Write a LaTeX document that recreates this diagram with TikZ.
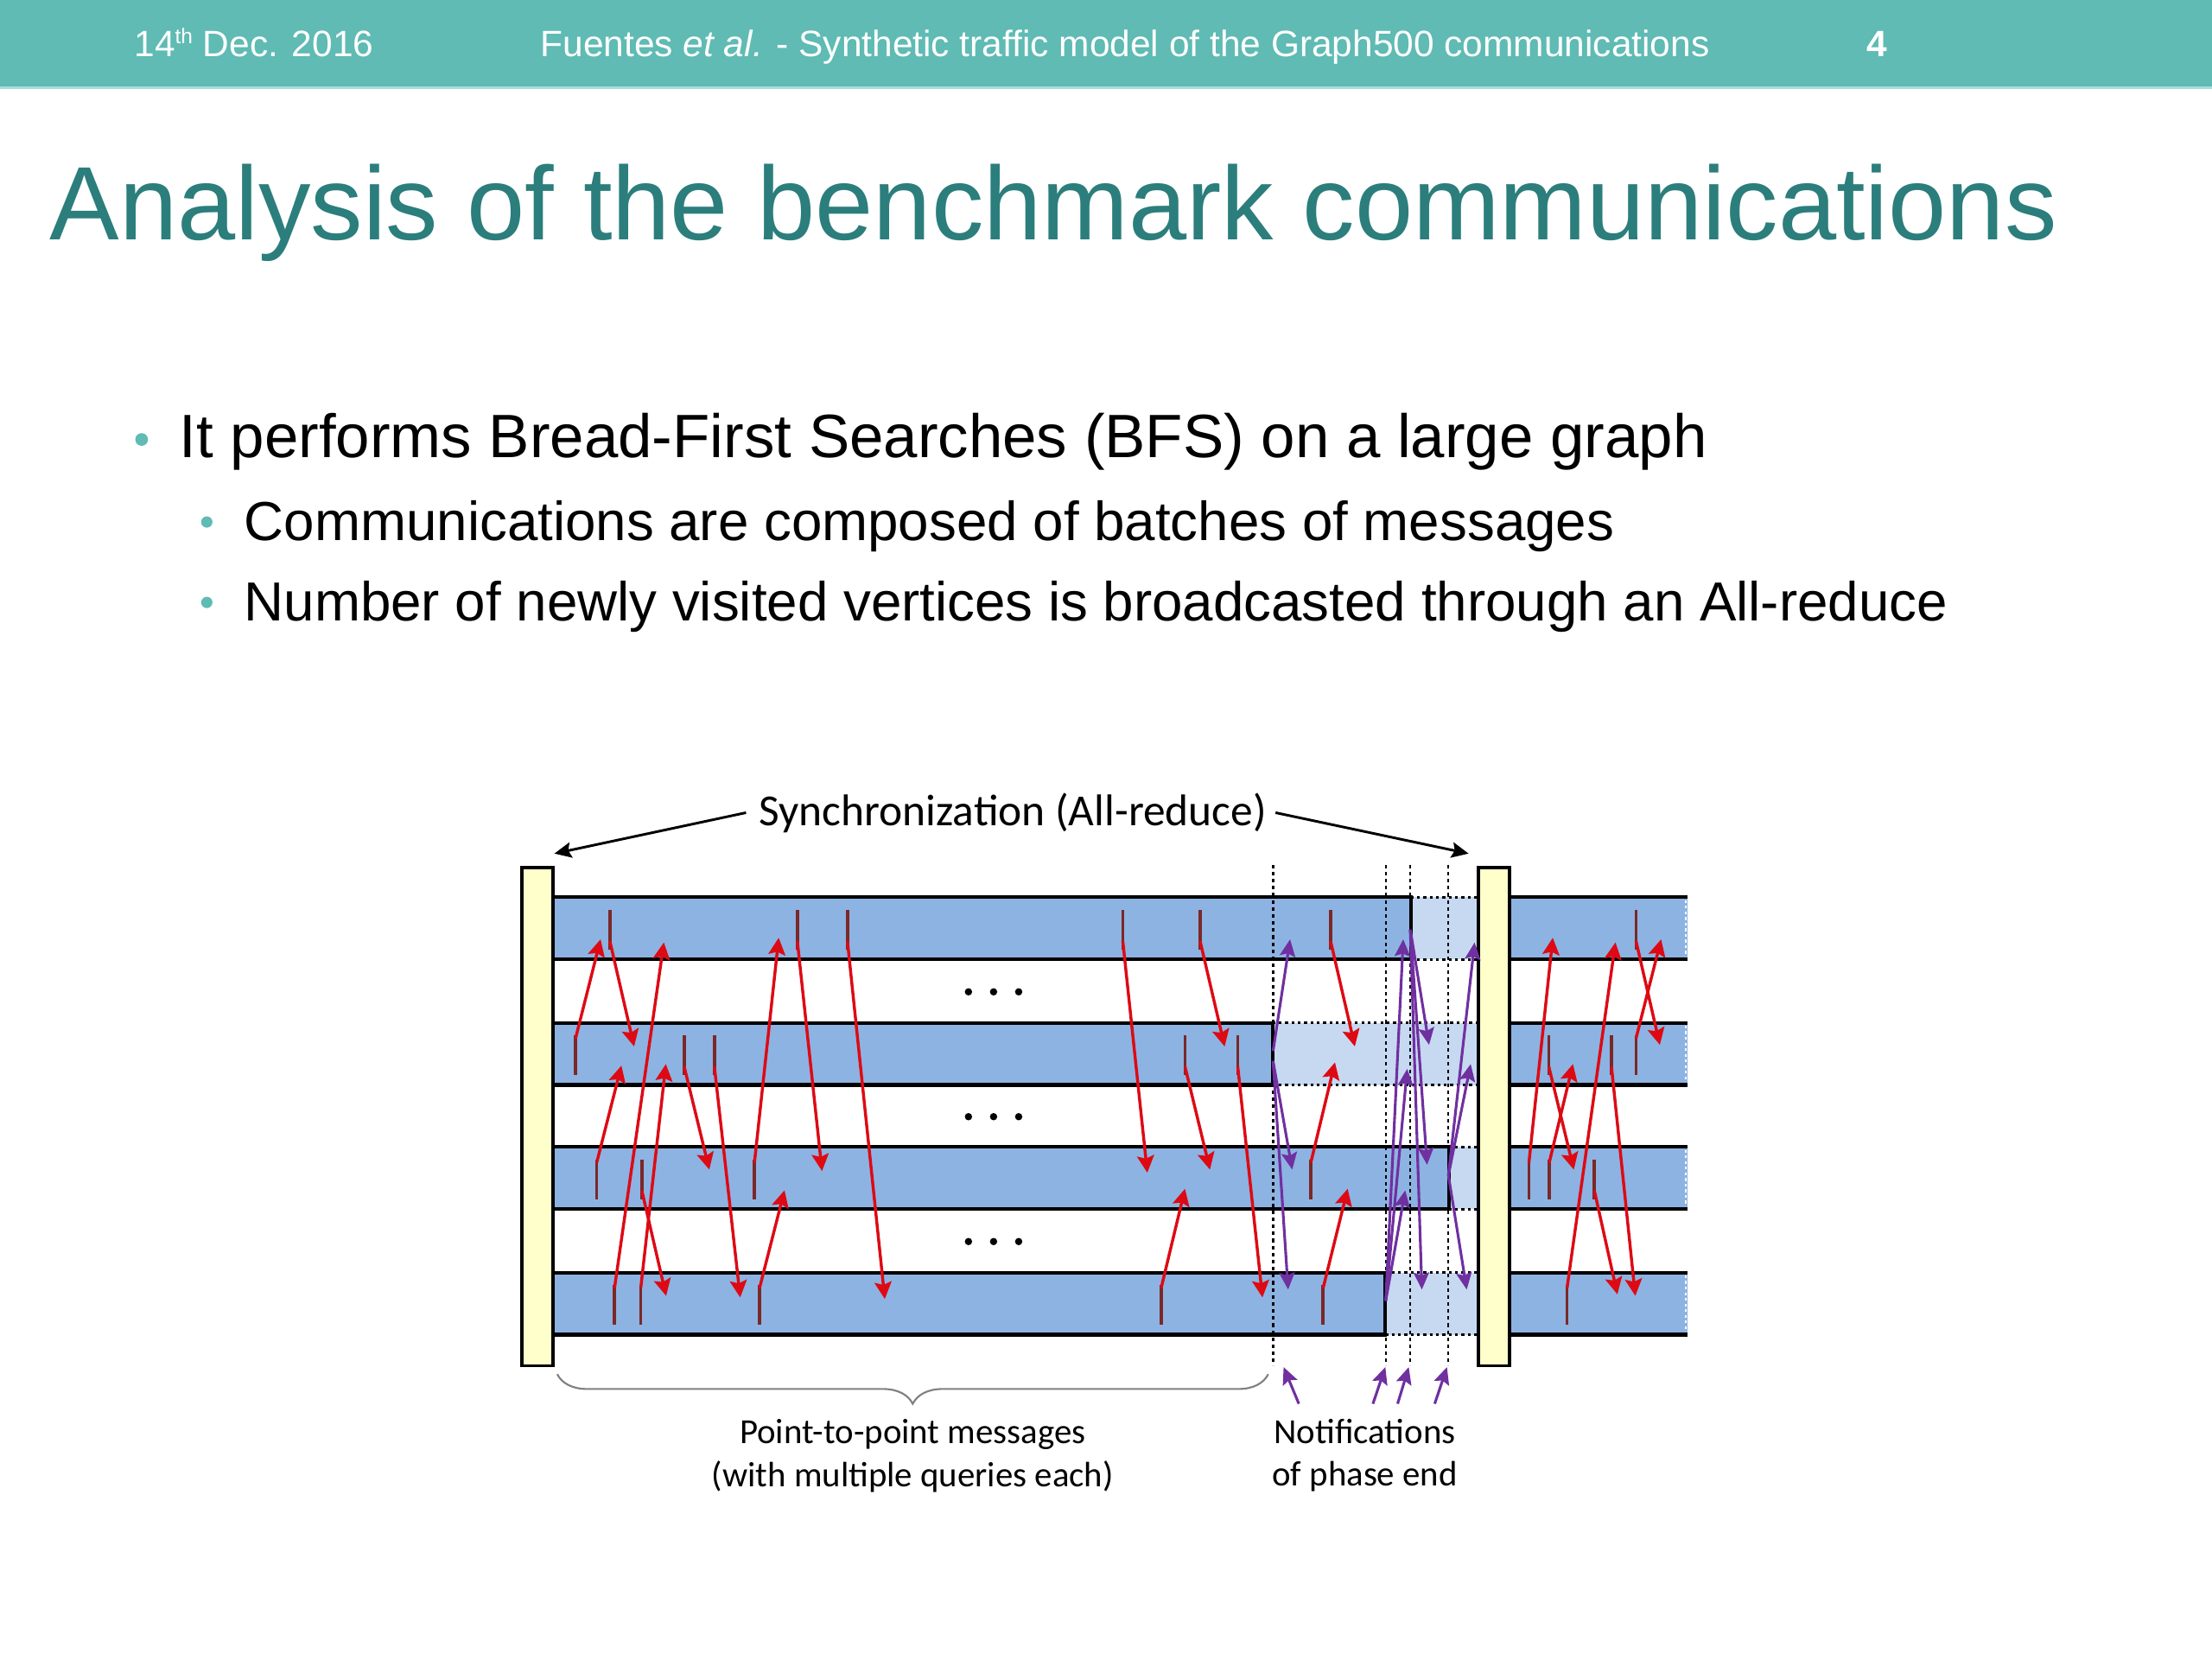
\documentclass[tikz,border=0pt]{standalone}
\usepackage{fontspec}
\setmainfont{Liberation Sans}
\newfontfamily\calfont{Carlito}
\usetikzlibrary{arrows.meta,decorations.pathreplacing}
\definecolor{hdrteal}{HTML}{5FBBB4}
\definecolor{hdrline}{HTML}{A9DCD7}
\definecolor{titleteal}{HTML}{2B7E7C}
\definecolor{bandblue}{HTML}{8DB3E2}
\definecolor{paleblue}{HTML}{C6D9F1}
\definecolor{barfill}{HTML}{FFFFCC}
\definecolor{msgred}{HTML}{DD0A14}
\definecolor{markred}{HTML}{7B2828}
\definecolor{notepurple}{HTML}{7030A0}
\definecolor{bracegray}{HTML}{808080}
\newcommand\dmsg[4]{%
  \draw[sendmark] (#1,#2+9) -- (#1,#2+37);
  \draw[redmsg] (#1,#2+31) -- (#3,#4);}
\newcommand\umsg[4]{%
  \draw[sendmark] (#1,#2+9) -- (#1,#2+37);
  \draw[redmsg] (#1,#2+11) -- (#3,#4);}
\begin{document}
\begin{tikzpicture}[x=1pt,y=-1pt,
  sendmark/.style={draw=markred,line width=2.2pt},
  redmsg/.style={draw=msgred,line width=2.1pt,-{Stealth[length=12pt,width=12pt,inset=2pt]}},
  purmsg/.style={draw=notepurple,line width=1.9pt,-{Stealth[length=12pt,width=11pt,inset=2pt]}},
  syncarr/.style={draw=black,line width=1.8pt,-{Stealth[length=12pt,width=11pt,inset=2pt]}},
  bandline/.style={line width=2.5pt,black},
  dotline/.style={line width=2pt,black,dash pattern=on 2pt off 2.5pt},
  vdot/.style={line width=1.5pt,black,dash pattern=on 2.5pt off 2.5pt},
  ybar/.style={draw=black,fill=barfill,line width=2pt,minimum width=22pt,minimum height=353pt,inner sep=0pt},
  txt/.style={inner sep=0pt,anchor=base west},
  ctxt/.style={inner sep=0pt,anchor=base,font=\calfont\fontsize{25}{29}\selectfont},
]
\useasboundingbox (0,0) rectangle (1568,1176);
\fill[white] (0,0) rectangle (1568,1176);
% header
\fill[hdrteal] (0,0) rectangle (1568,61);
\fill[hdrline] (0,61) rectangle (1568,63);
\node[txt,text=white,font=\fontsize{26}{30}\selectfont] (date) at (95,40)
  {14\raisebox{9pt}{\fontsize{15}{15}\selectfont th} Dec. 2016};
\node[txt,text=white,font=\fontsize{26}{30}\selectfont] (ftitle) at (383,40)
  {Fuentes \textit{et al.} - Synthetic traffic model of the Graph500 communications};
\node[txt,text=white,font=\bfseries\fontsize{26}{30}\selectfont] (pnum) at (1323,40) {4};
% title
\node[txt,text=titleteal,font=\fontsize{74}{80}\selectfont] (title) at (35,170)
  {Analysis of the benchmark communications};
% bullets
\fill[hdrteal] (100.4,311.5) circle (4.5);
\fill[hdrteal] (146.6,370) circle (4);
\fill[hdrteal] (146.6,427) circle (4);
\node[txt,font=\fontsize{43.4}{48}\selectfont] (b1) at (127,324.5)
  {It performs Bread-First Searches (BFS) on a large graph};
\node[txt,font=\fontsize{39}{44}\selectfont] (b2) at (173,383)
  {Communications are composed of batches of messages};
\node[txt,font=\fontsize{39}{44}\selectfont] (b3) at (173,440)
  {Number of newly visited vertices is broadcasted through an All-reduce};
% bands
\foreach \t/\e in {636/1000,725/902,813/1027,902/982}{
  \fill[bandblue] (392,\t) rectangle (\e,\t+44);
  \fill[paleblue] (\e,\t) rectangle (1048,\t+44);
  \fill[bandblue] (1070,\t) rectangle (1196,\t+44);
  \draw[dotline] (\e,\t) -- (1048,\t) (\e,\t+44) -- (1048,\t+44);
  \draw[bandline] (392,\t) -- (\e,\t) -- (\e,\t+44) -- (392,\t+44);
  \draw[bandline] (1070,\t) -- (1196,\t) (1070,\t+44) -- (1196,\t+44);
  \draw[white,line width=1.2pt,dash pattern=on 2pt off 2pt] (1195,\t+2) -- (1195,\t+42);
}
% dotted phase ends
\foreach \x in {902.4,982.3,999.7,1026.7} \draw[vdot] (\x,613) -- (\x,968);
% synchronization bars
\node[ybar] (lbar) at (381,791.5) {};
\node[ybar] (rbar) at (1059,791.5) {};
% dots
\foreach \y in {703,791.5,880}{
  \foreach \x in {686.5,704.3,722.1} \fill (\x,\y) circle (2.6);
}
% red point-to-point messages, left part
\dmsg{432.3}{636}{449.5}{741.7}
\dmsg{565.2}{636}{582.7}{830}
\dmsg{600.7}{636}{627.2}{920.7}
\dmsg{455}{813}{472.2}{918.5}
\dmsg{485}{725}{502.8}{829}
\dmsg{506.4}{725}{524.7}{919.6}
\dmsg{795.9}{636}{813.3}{831.2}
\dmsg{850.7}{636}{868.1}{741.7}
\dmsg{840}{725}{857.7}{829}
\dmsg{877.4}{725}{894.9}{919.6}
\dmsg{943.2}{636}{960.4}{741.7}
\umsg{408}{725}{425.7}{665.8}
\umsg{435.6}{902}{470.6}{668}
\umsg{534.8}{813}{552}{664.7}
\umsg{423}{813}{440.5}{755.3}
\umsg{454.2}{902}{472}{754.2}
\umsg{538.4}{902}{556.1}{843.7}
\umsg{823.1}{902}{840}{842.6}
\umsg{929.2}{813}{946.3}{753}
\umsg{937.9}{902}{955.3}{842.6}
% right part
\dmsg{1130.2}{813}{1146.5}{917.4}
\dmsg{1142.3}{725}{1159.2}{918.5}
\dmsg{1159.7}{636}{1176.6}{740.6}
\dmsg{1097.9}{725}{1115.6}{829}
\umsg{1083.8}{813}{1100.7}{664.7}
\umsg{1098.2}{813}{1115}{754.2}
\umsg{1110.8}{902}{1145.1}{668}
\umsg{1159.7}{725}{1177.5}{665.8}
% purple notifications
\draw[purmsg] (902.4,745) -- (914.5,665.8);
\draw[purmsg] (902.4,752) -- (916,829);
\draw[purmsg] (902.4,752) -- (913.1,914);
\draw[purmsg] (982.3,922) -- (994.7,665.8);
\draw[purmsg] (982.3,922) -- (997.5,757.6);
\draw[purmsg] (982.3,922) -- (996.1,843.7);
\draw[purmsg] (999.7,659) -- (1013,740.6);
\draw[purmsg] (999.7,659) -- (1011.6,825.6);
\draw[purmsg] (999.7,659) -- (1007.9,914);
\draw[purmsg] (1026.7,833) -- (1045.3,668);
\draw[purmsg] (1026.7,833) -- (1042.5,754.2);
\draw[purmsg] (1026.7,833) -- (1039.7,914);
% synchronization label
\node[inner sep=0pt,anchor=base,font=\calfont\fontsize{31.5}{36}\selectfont] (sync) at (718,585)
  {Synchronization (All-reduce)};
\draw[syncarr] ([xshift=-9pt]sync.west) -- ([yshift=9pt]lbar.north east);
\draw[syncarr] ([xshift=6pt]sync.east) -- ([xshift=-6pt,yshift=9pt]rbar.north west);
% brace and bottom labels
\draw[bracegray,line width=1.3pt,decorate,decoration={brace,amplitude=21pt,mirror}]
  (395,974) -- (899,974);
\node[ctxt] (p2p1) at (647,1023) {Point-to-point messages};
\node[ctxt] (p2p2) at (647,1054) {(with multiple queries each)};
\node[ctxt] (not1) at (967.5,1023) {Notifications};
\node[ctxt] (not2) at (967.5,1053) {of phase end};
\draw[purmsg] (920.7,995) -- (909.9,969);
\draw[purmsg] (973.2,995) -- (982,969);
\draw[purmsg] (990.7,995) -- (998.6,969);
\draw[purmsg] (1017,995) -- (1025.7,969);
\end{tikzpicture}
\end{document}
